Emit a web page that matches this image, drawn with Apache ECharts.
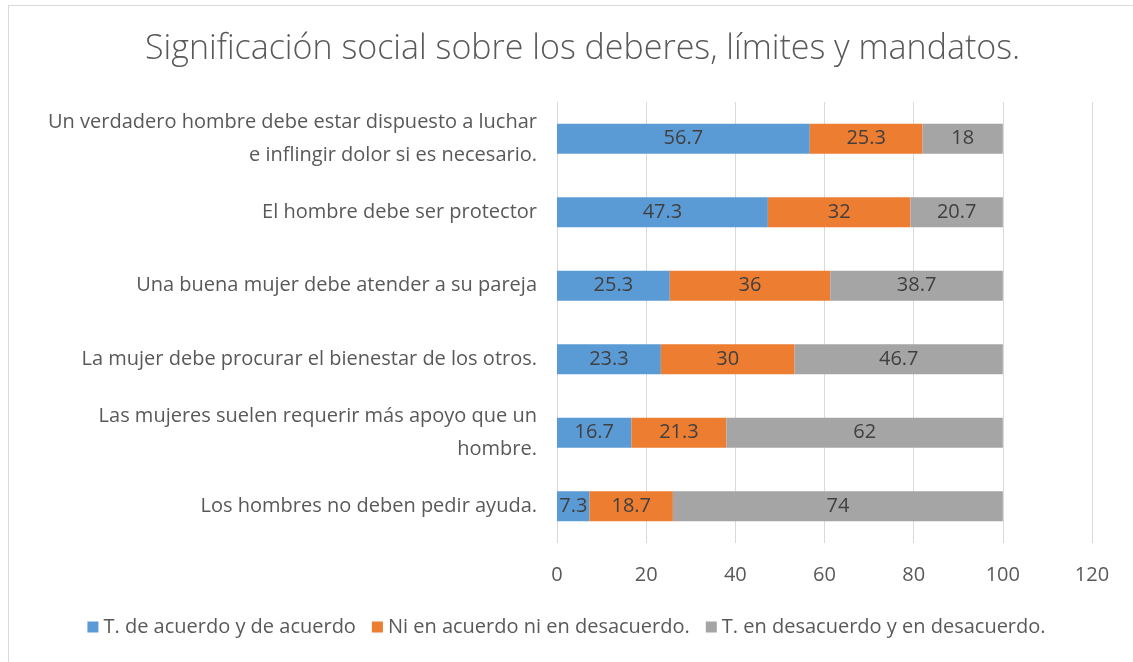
<!DOCTYPE html>
<html lang="es">
<head>
<meta charset="UTF-8">
<script src="https://cdn.jsdelivr.net/npm/echarts@6/dist/echarts.min.js"></script>
<title>Significación social</title>
<style>
  html, body { margin: 0; padding: 0; background: #fff; overflow: hidden; }
  #main { position: relative; width: 1133px; height: 662px; }
  #frame { position: absolute; left: 8px; top: 5px; width: 1200px; height: 700px;
           border: 1px solid #d9d9d9; box-sizing: border-box; pointer-events: none; }
</style>
</head>
<body>
<div id="main"></div>
<div id="frame"></div>
<script>
// categories, top to bottom
var categories = [
  'Un verdadero hombre debe estar dispuesto a luchar\ne inflingir dolor si es necesario.',
  'El hombre debe ser protector',
  'Una buena mujer debe atender a su pareja',
  'La mujer debe procurar el bienestar de los otros.',
  'Las mujeres suelen requerir más apoyo que un\nhombre.',
  'Los hombres no deben pedir ayuda.'
];
var seriesNames = [
  'T. de acuerdo y de acuerdo',
  'Ni en acuerdo ni en desacuerdo.',
  'T. en desacuerdo y en desacuerdo.'
];
var deAcuerdo = [56.7, 47.3, 25.3, 23.3, 16.7, 7.3];
var neutral = [25.3, 32, 36, 30, 21.3, 18.7];
var desacuerdo = [18, 20.7, 38.7, 46.7, 62, 74];
var colors = ['#5B9BD5', '#ED7D31', '#A5A5A5'];

var font = 'Open Sans';
var chart = echarts.init(document.getElementById('main'));

function makeSeries(name, data) {
  return {
    name: name,
    type: 'bar',
    stack: 'total',
    barWidth: 30,
    data: data,
    label: {
      show: true,
      position: 'inside',
      color: '#404040',
      fontFamily: font,
      fontSize: 20
    }
  };
}

chart.setOption({
  color: colors,
  animation: false,
  title: {
    text: 'Significación social sobre los deberes, límites y mandatos.',
    left: 140,
    top: 27,
    textStyle: { color: '#595959', fontFamily: font, fontSize: 34, fontWeight: 300 }
  },
  legend: {
    bottom: 20,
    left: 'center',
    itemWidth: 11,
    itemHeight: 11,
    itemGap: 16,
    icon: 'rect',
    textStyle: { color: '#595959', fontFamily: font, fontSize: 20 },
    data: seriesNames
  },
  grid: { left: 557, right: 41, top: 102, bottom: 119, containLabel: false },
  xAxis: {
    type: 'value',
    min: 0,
    max: 120,
    interval: 20,
    axisLine: { show: false },
    axisTick: { show: false },
    axisLabel: { color: '#595959', fontFamily: font, fontSize: 20, margin: 22 },
    splitLine: { lineStyle: { color: '#d9d9d9', width: 1 } }
  },
  yAxis: {
    type: 'category',
    inverse: true,
    data: categories,
    axisLine: { show: false },
    axisTick: { show: false },
    axisLabel: { color: '#595959', fontFamily: font, fontSize: 20, margin: 20, lineHeight: 33, align: 'right' }
  },
  series: [
    makeSeries(seriesNames[0], deAcuerdo),
    makeSeries(seriesNames[1], neutral),
    makeSeries(seriesNames[2], desacuerdo)
  ]
});
</script>
</body>
</html>
